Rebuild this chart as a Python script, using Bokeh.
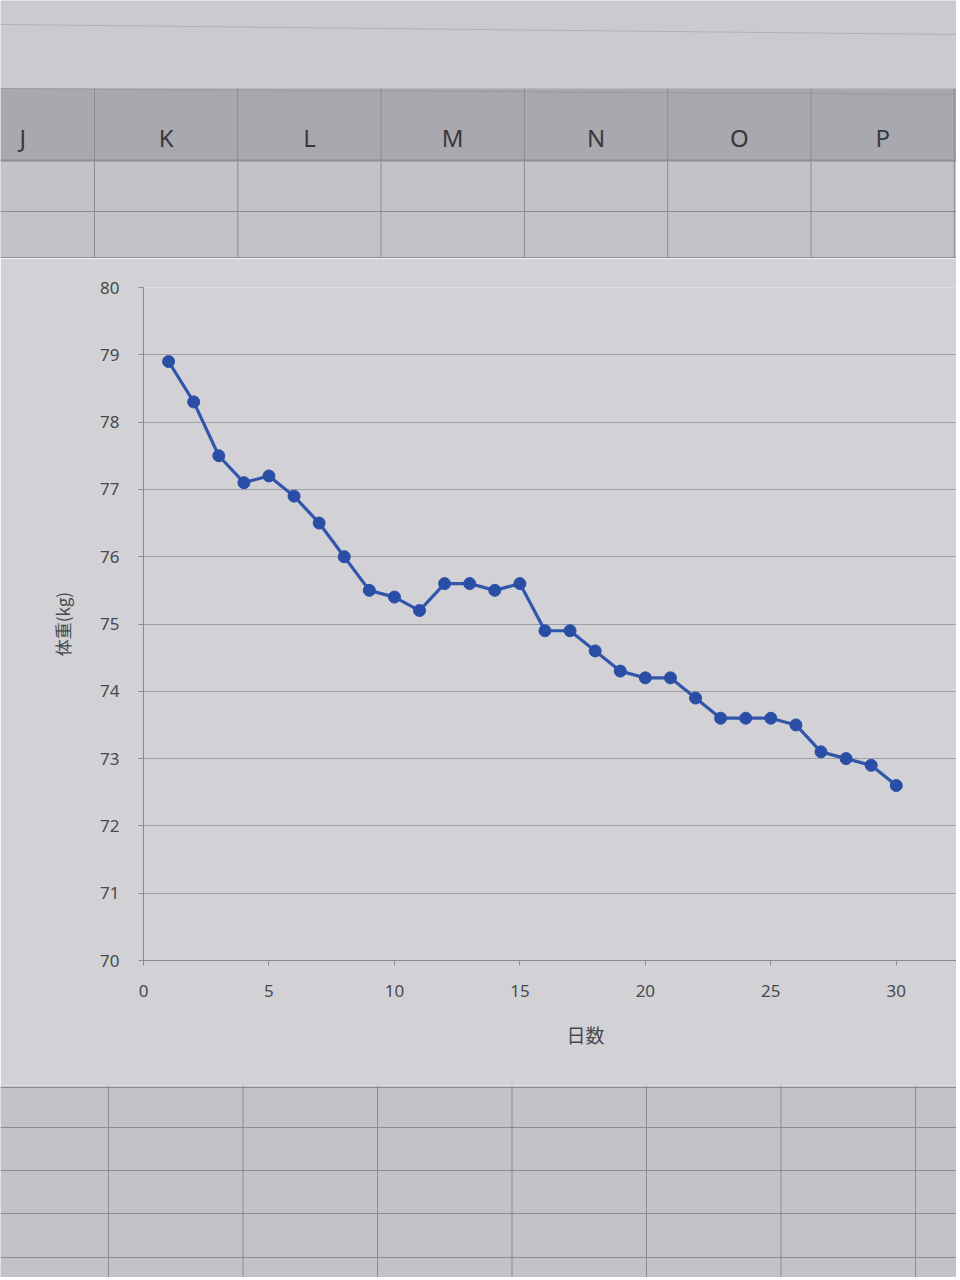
from bokeh.plotting import figure
from bokeh.layouts import column
from bokeh.models import Range1d, FixedTicker, Title
from bokeh.core.properties import value
from bokeh.embed import file_html
from bokeh.resources import INLINE

# ---------------- data ----------------
days = list(range(1, 31))
weight = [78.9, 78.3, 77.5, 77.1, 77.2, 76.9, 76.5, 76.0, 75.5, 75.4,
          75.2, 75.6, 75.6, 75.5, 75.6, 74.9, 74.9, 74.6, 74.3, 74.2,
          74.2, 73.9, 73.6, 73.6, 73.6, 73.5, 73.1, 73.0, 72.9, 72.6]
x_ticks = [0, 5, 10, 15, 20, 25, 30]
y_ticks = list(range(70, 81))
x_label = "日数"
y_label = "体重(kg)"
column_letters = ["J", "K", "L", "M", "N", "O", "P"]

# ---------------- style ----------------
W = 956
TOP_H, CHART_H, BOT_H = 258, 827, 192
CELL_BG = "#c3c2c8"
HEAD_BG = "#a9a8af"
TOP_BG = "#cbcbcf"
SHEET_LINE = "#8c8b94"
CHART_BG = "#d2d2d6"
TEXT = "#48484e"
BLUE_LINE = "#3356ad"
BLUE_DOT = "#2a4ea6"
NUM_FONT = "Noto Sans"
JP_FONT = "Noto Sans CJK JP"

# ---------------- spreadsheet header (top) ----------------
top = figure(width=W, height=TOP_H, x_range=Range1d(0, W), y_range=Range1d(TOP_H, 0),
             output_backend="svg", toolbar_location=None, min_border=0,
             x_axis_location=None, y_axis_location=None)
top.frame_align = False
top.grid.visible = False
top.outline_line_color = None
top.background_fill_color = TOP_BG
top.border_fill_color = TOP_BG

head_top, head_bot = 88, 160
row_lines = [head_bot, 211, TOP_H - 1]
col_w = 143.3
first_edge = 94
edges = [first_edge + i * col_w for i in range(len(column_letters))]
centers = [first_edge + (i - 0.5) * col_w for i in range(len(column_letters))]

top.quad(left=[0], right=[W], top=[head_top], bottom=[head_bot], fill_color=HEAD_BG, line_color=None)
top.quad(left=[0], right=[W], top=[head_bot], bottom=[TOP_H], fill_color=CELL_BG, line_color=None)
top.segment(x0=[0], y0=[24], x1=[W], y1=[34], line_color="#b0b0b6", line_width=1)
top.segment(x0=[0], y0=[head_top], x1=[W], y1=[head_top + 6], line_color="#9a99a0", line_width=1)
top.segment(x0=edges, y0=[head_top] * len(edges), x1=edges, y1=[TOP_H] * len(edges),
            line_color=SHEET_LINE, line_width=1)
top.segment(x0=[0] * len(row_lines), y0=row_lines, x1=[W] * len(row_lines), y1=row_lines,
            line_color=SHEET_LINE, line_width=[2, 1, 1])
top.text(x=centers, y=[137] * len(centers), text=column_letters,
         text_font=value(NUM_FONT), text_font_size="24px", text_color="#38383e",
         text_align="center", text_baseline="middle")

# ---------------- chart ----------------
p = figure(width=W, height=CHART_H, x_range=Range1d(0, 32.4), y_range=Range1d(70, 80),
           output_backend="svg", toolbar_location=None,
           min_border_left=143, min_border_right=0, min_border_top=29, min_border_bottom=125)
p.frame_align = False
p.background_fill_color = CHART_BG
p.border_fill_color = CHART_BG
p.outline_line_color = None

p.xgrid.visible = False
p.ygrid.grid_line_color = "#9e9ea6"
p.ygrid.grid_line_width = 1

p.xaxis.ticker = FixedTicker(ticks=x_ticks)
p.yaxis.ticker = FixedTicker(ticks=y_ticks)
for ax in (p.xaxis, p.yaxis):
    ax.axis_line_color = "#8a8a92"
    ax.axis_line_width = 1
    ax.major_tick_line_color = "#8a8a92"
    ax.major_tick_in = 0
    ax.major_tick_out = 5
    ax.minor_tick_line_color = None
    ax.major_label_text_font = NUM_FONT
    ax.major_label_text_font_size = "17px"
    ax.major_label_text_color = TEXT
p.xaxis.major_label_standoff = 19
p.yaxis.major_label_standoff = 19

p.yaxis.axis_label = y_label
p.yaxis.axis_label_text_font = JP_FONT
p.yaxis.axis_label_text_font_size = "17px"
p.yaxis.axis_label_text_font_style = "normal"
p.yaxis.axis_label_text_color = TEXT
p.yaxis.axis_label_standoff = 22

# x-axis title: Excel centres it on a plot area that runs past the photo's right edge
xt = Title(text=x_label, align="left", offset=423, standoff=38,
           text_font=JP_FONT, text_font_size="19px", text_font_style="normal",
           text_color=TEXT)
p.add_layout(xt, "below")

p.line(days, weight, line_color=BLUE_LINE, line_width=3.2)
p.scatter(days, weight, size=12, fill_color=BLUE_DOT, line_color=BLUE_DOT)

# ---------------- spreadsheet cells (bottom) ----------------
bot = figure(width=W, height=BOT_H, x_range=Range1d(0, W), y_range=Range1d(BOT_H, 0),
             output_backend="svg", toolbar_location=None, min_border=0,
             x_axis_location=None, y_axis_location=None)
bot.frame_align = False
bot.grid.visible = False
bot.outline_line_color = None
bot.background_fill_color = CELL_BG
bot.border_fill_color = CELL_BG
b_rows = [2, 42, 85, 128, 172]
b_col_w = 134.5
b_edges = [108 + i * b_col_w for i in range(7)]
bot.segment(x0=[0] * len(b_rows), y0=b_rows, x1=[W] * len(b_rows), y1=b_rows,
            line_color=SHEET_LINE, line_width=1)
bot.segment(x0=b_edges, y0=[0] * len(b_edges), x1=b_edges, y1=[BOT_H] * len(b_edges),
            line_color=SHEET_LINE, line_width=1)

layout = column(top, p, bot, spacing=0)
open("out.html", "w").write(file_html(layout, INLINE))
